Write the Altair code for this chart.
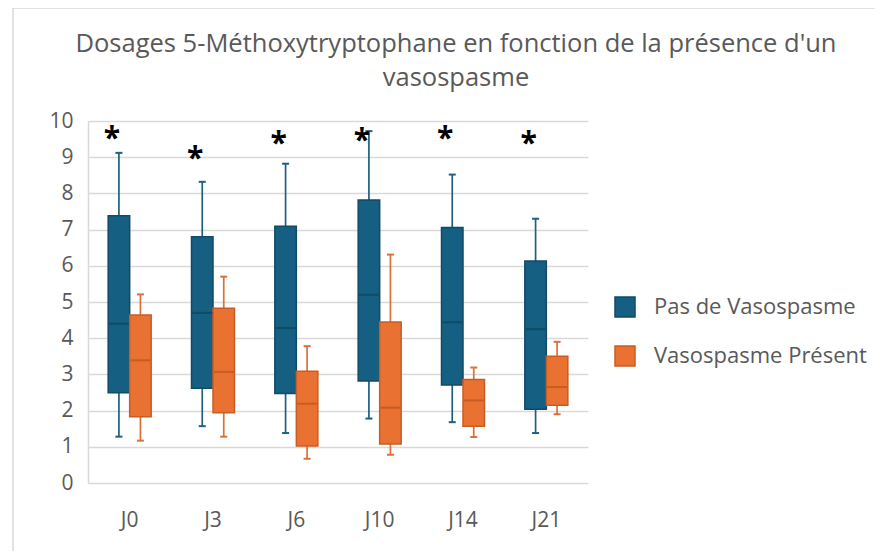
import altair as alt
import pandas as pd

days = ["J0", "J3", "J6", "J10", "J14", "J21"]
groups = ["Pas de Vasospasme", "Vasospasme Présent"]

no_min = [1.28, 1.57, 1.38, 1.78, 1.68, 1.38]
no_q1 = [2.49, 2.62, 2.47, 2.82, 2.71, 2.04]
no_med = [4.40, 4.70, 4.28, 5.20, 4.44, 4.25]
no_q3 = [7.38, 6.80, 7.09, 7.82, 7.06, 6.13]
no_max = [9.12, 8.32, 8.82, 9.72, 8.52, 7.30]

vs_min = [1.17, 1.28, 0.67, 0.78, 1.27, 1.90]
vs_q1 = [1.83, 1.94, 1.02, 1.08, 1.57, 2.15]
vs_med = [3.39, 3.07, 2.19, 2.08, 2.28, 2.65]
vs_q3 = [4.64, 4.83, 3.09, 4.45, 2.86, 3.50]
vs_max = [5.21, 5.70, 3.78, 6.31, 3.19, 3.90]

star_y = [9.68, 9.11, 9.52, 9.61, 9.66, 9.52]
y_ticks = list(range(0, 11))

fill_colors = ["#156082", "#E97132"]
stroke_colors = ["#104a66", "#c95c22"]
line_colors = ["#1f5f80", "#dd7038"]

rows = []
for i, d in enumerate(days):
    rows.append(dict(day=d, group=groups[0], lo=no_min[i], q1=no_q1[i], med=no_med[i], q3=no_q3[i], hi=no_max[i]))
    rows.append(dict(day=d, group=groups[1], lo=vs_min[i], q1=vs_q1[i], med=vs_med[i], q3=vs_q3[i], hi=vs_max[i]))
df = pd.DataFrame(rows)
stars = pd.DataFrame({"day": days, "group": [groups[0]] * len(days), "y": star_y})

FONT = "Open Sans"
GRAY = "#595959"

x_axis = alt.Axis(labelFontSize=21, labelColor=GRAY, labelFont=FONT, labelAngle=0,
                  domain=False, ticks=False, labelPadding=26, grid=False)
y_axis = alt.Axis(values=y_ticks, labelFontSize=21, labelColor=GRAY, labelFont=FONT,
                  ticks=False, domain=True, domainColor="#d9d9d9", domainWidth=1.5,
                  grid=True, gridColor="#d9d9d9", gridWidth=1.5, labelPadding=15)
x_enc = alt.X("day:N", sort=days, title=None,
              scale=alt.Scale(paddingInner=0.484, paddingOuter=0.242), axis=x_axis)
xo_enc = alt.XOffset("group:N", sort=groups, scale=alt.Scale(paddingInner=0, paddingOuter=0))
y_scale = alt.Scale(domain=[0, 10], nice=False, zero=True)


def yq(field):
    return alt.Y(field, scale=y_scale, title=None, axis=y_axis)


def by_group(colors):
    return alt.condition(alt.datum.group == groups[0], alt.value(colors[0]), alt.value(colors[1]))


color_enc = alt.Color("group:N", sort=groups, title=None,
                      scale=alt.Scale(domain=groups, range=fill_colors))
stroke_enc = alt.Stroke("group:N", sort=groups, title=None,
                        scale=alt.Scale(domain=groups, range=stroke_colors))

base = alt.Chart(df).encode(x=x_enc, xOffset=xo_enc)

whisk = base.mark_rule(strokeWidth=1.7, opacity=1).encode(
    y=yq("lo:Q"), y2="hi:Q", color=by_group(line_colors))
cap_lo = base.mark_tick(size=7, thickness=2, opacity=1).encode(
    y=yq("lo:Q"), color=by_group(line_colors))
cap_hi = base.mark_tick(size=7, thickness=2, opacity=1).encode(
    y=yq("hi:Q"), color=by_group(line_colors))
box = base.mark_bar(strokeWidth=1.5, opacity=1).encode(
    y=yq("q1:Q"), y2="q3:Q", color=color_enc, stroke=stroke_enc)
med = base.mark_tick(size=20, thickness=2, opacity=1).encode(
    y=yq("med:Q"), color=by_group(stroke_colors))

star = alt.Chart(stars).mark_text(text="*", fontSize=30, fontWeight="bold", color="black",
                                  dx=-7, dy=6, baseline="middle", font=FONT).encode(
    x=x_enc, xOffset=xo_enc, y=yq("y:Q"))

border_df = pd.DataFrame({"k": [0]})
border_left = alt.Chart(border_df).mark_rule(color="#d9d9d9", strokeWidth=1.5).encode(
    x=alt.value(-75), y=alt.value(-113), y2=alt.value(440))
border_top = alt.Chart(border_df).mark_rule(color="#d9d9d9", strokeWidth=1.5).encode(
    x=alt.value(-75), x2=alt.value(800), y=alt.value(-113))

chart = alt.layer(whisk, cap_lo, cap_hi, box, med, star, border_left, border_top).properties(
    width=500, height=362,
    title=alt.TitleParams(
        text=["Dosages 5-Méthoxytryptophane en fonction de la présence d'un", "vasospasme"],
        fontSize=25.5, color=GRAY, font=FONT, fontWeight="normal", anchor="middle",
        dx=118, offset=-84, lineHeight=34),
    autosize=alt.AutoSizeParams(type="none"),
    padding={"left": 80, "top": 113, "right": 287, "bottom": 68},
).configure_view(stroke=None).configure_legend(
    orient="none", legendX=526, legendY=175, symbolType="square", symbolSize=400,
    labelFontSize=22, labelColor=GRAY, labelFont=FONT, rowPadding=23, symbolStrokeWidth=1.5,
    labelOffset=18, labelLimit=400, symbolOpacity=1,
)

chart.save("out.html", embed_options={"renderer": "svg", "actions": False})
